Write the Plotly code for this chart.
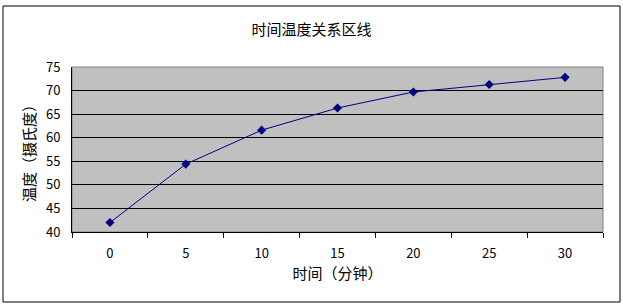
import plotly.graph_objects as go

minutes = ["0", "5", "10", "15", "20", "25", "30"]
temperature = [42.0, 54.4, 61.6, 66.3, 69.7, 71.3, 72.8]
y_ticks = [40, 45, 50, 55, 60, 65, 70, 75]

W, H = 623, 306
L, R, T, B = 72, 20, 67, 74
pw, ph = W - L - R, H - T - B
FONT = "Noto Sans CJK SC"

fig = go.Figure()
fig.add_trace(go.Scatter(
    x=minutes, y=temperature, mode="lines+markers",
    line=dict(color="#000080", width=1),
    marker=dict(symbol="diamond", size=7, color="#000080"),
    cliponaxis=False, showlegend=False,
))

def px_x(p):
    return (p - L) / pw

def px_y(p):
    return (H - B - p) / ph

# outer chart frame
fig.add_shape(type="rect", xref="paper", yref="paper",
              x0=px_x(3), x1=px_x(620), y0=px_y(302), y1=px_y(6),
              line=dict(color="black", width=1), layer="below")
# plot area frame
fig.add_shape(type="rect", xref="paper", yref="paper",
              x0=0, x1=1, y0=0, y1=1,
              line=dict(color="#808080", width=1), layer="below")

fig.update_layout(
    width=W, height=H,
    margin=dict(l=L, r=R, t=T, b=B),
    paper_bgcolor="white", plot_bgcolor="#C0C0C0",
    font=dict(family=FONT, size=13, color="black"),
    title=dict(text="时间温度关系区线", x=0.5, xref="container",
               y=1 - 30 / H, yref="container", yanchor="middle",
               font=dict(size=15, family=FONT)),
    xaxis=dict(
        type="category", tickson="boundaries", ticks="outside", ticklen=5,
        tickcolor="black", showgrid=False, showline=True, linecolor="black",
        linewidth=1, tickfont=dict(size=13), ticklabelstandoff=9,
        title=dict(text="时间（分钟）", font=dict(size=15), standoff=7),
        range=[-0.5, 6.5], zeroline=False,
    ),
    yaxis=dict(
        range=[40, 75], tickvals=y_ticks, showgrid=True, gridcolor="black",
        gridwidth=1, showline=True, linecolor="black", linewidth=1,
        ticks="", tickfont=dict(size=13), zeroline=False, ticklabelstandoff=8,
        title=dict(text="温度（摄氏度）", font=dict(size=15), standoff=6),
    ),
)

fig.write_html("out.html")
